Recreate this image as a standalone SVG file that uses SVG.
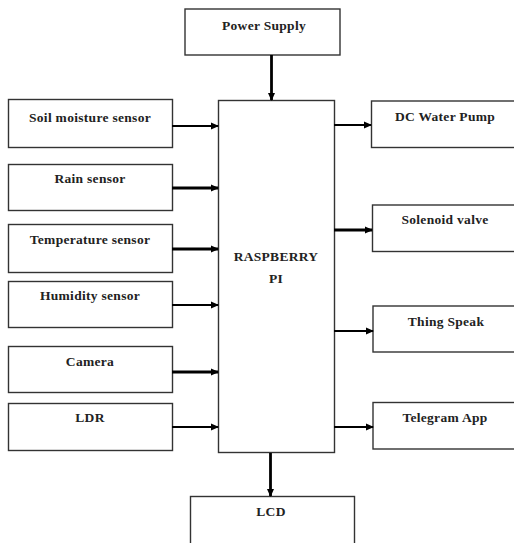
<svg xmlns="http://www.w3.org/2000/svg" width="514" height="543" viewBox="0 0 514 543">
<defs>
<marker id="ah" markerWidth="8" markerHeight="8" refX="7" refY="4" orient="auto" markerUnits="userSpaceOnUse">
<path d="M0,0.5 L8,4 L0,7.5 Z" fill="#000"/>
</marker>
<style>
.box{fill:#fff;stroke:#333;stroke-width:1.4}
.t{font-family:"Liberation Serif","Times New Roman",serif;font-weight:bold;font-size:13.5px;letter-spacing:0.3px;fill:#222;text-anchor:middle}
.c{stroke:#000;stroke-width:1.8;fill:none;marker-end:url(#ah)}
.k{stroke-width:2.8}
</style>
</defs>
<rect width="514" height="543" fill="#fff"/>
<g id="power"><rect class="box" x="185" y="9" width="155" height="46"/><text class="t" x="264" y="30">Power Supply</text></g>
<g id="rpi"><rect class="box" x="218.5" y="100.5" width="116" height="352"/><text class="t" x="276" y="261">RASPBERRY</text><text class="t" x="276" y="283">PI</text></g>
<g id="soil"><rect class="box" x="8.5" y="99.5" width="164" height="48"/><text class="t" x="90" y="122">Soil moisture sensor</text></g>
<g id="rain"><rect class="box" x="8.5" y="164.5" width="164" height="46"/><text class="t" x="90" y="183">Rain sensor</text></g>
<g id="temp"><rect class="box" x="8.5" y="224.5" width="164" height="48"/><text class="t" x="90" y="244">Temperature sensor</text></g>
<g id="humidity"><rect class="box" x="8.5" y="281.5" width="164" height="46"/><text class="t" x="90" y="300">Humidity sensor</text></g>
<g id="camera"><rect class="box" x="8.5" y="346.5" width="164" height="46"/><text class="t" x="90" y="366">Camera</text></g>
<g id="ldr"><rect class="box" x="8.5" y="403.5" width="164" height="47"/><text class="t" x="90" y="422">LDR</text></g>
<g id="pump"><rect class="box" x="371.5" y="101" width="150" height="46.5"/><text class="t" x="445" y="121">DC Water Pump</text></g>
<g id="solenoid"><rect class="box" x="372.5" y="205" width="150" height="46.5"/><text class="t" x="445" y="224">Solenoid valve</text></g>
<g id="thingspeak"><rect class="box" x="373" y="306" width="150" height="46"/><text class="t" x="446" y="326">Thing Speak</text></g>
<g id="telegram"><rect class="box" x="373" y="402.5" width="150" height="46.5"/><text class="t" x="445" y="422">Telegram App</text></g>
<g id="lcd"><rect class="box" x="190.5" y="496.5" width="164" height="60"/><text class="t" x="271" y="516">LCD</text></g>
<g id="connectors">
<path class="c k" d="M271.5,55 V100"/>
<path class="c" d="M172,126 H218"/>
<path class="c k" d="M172,188 H218"/>
<path class="c k" d="M172,249 H218"/>
<path class="c" d="M172,305 H218"/>
<path class="c k" d="M172,372 H218"/>
<path class="c" d="M172,427 H218"/>
<path class="c" d="M334,125 H371"/>
<path class="c k" d="M334,230 H372"/>
<path class="c" d="M334,331 H373"/>
<path class="c" d="M334,427 H373"/>
<path class="c k" d="M270.5,453 V496"/>
</g>
</svg>
